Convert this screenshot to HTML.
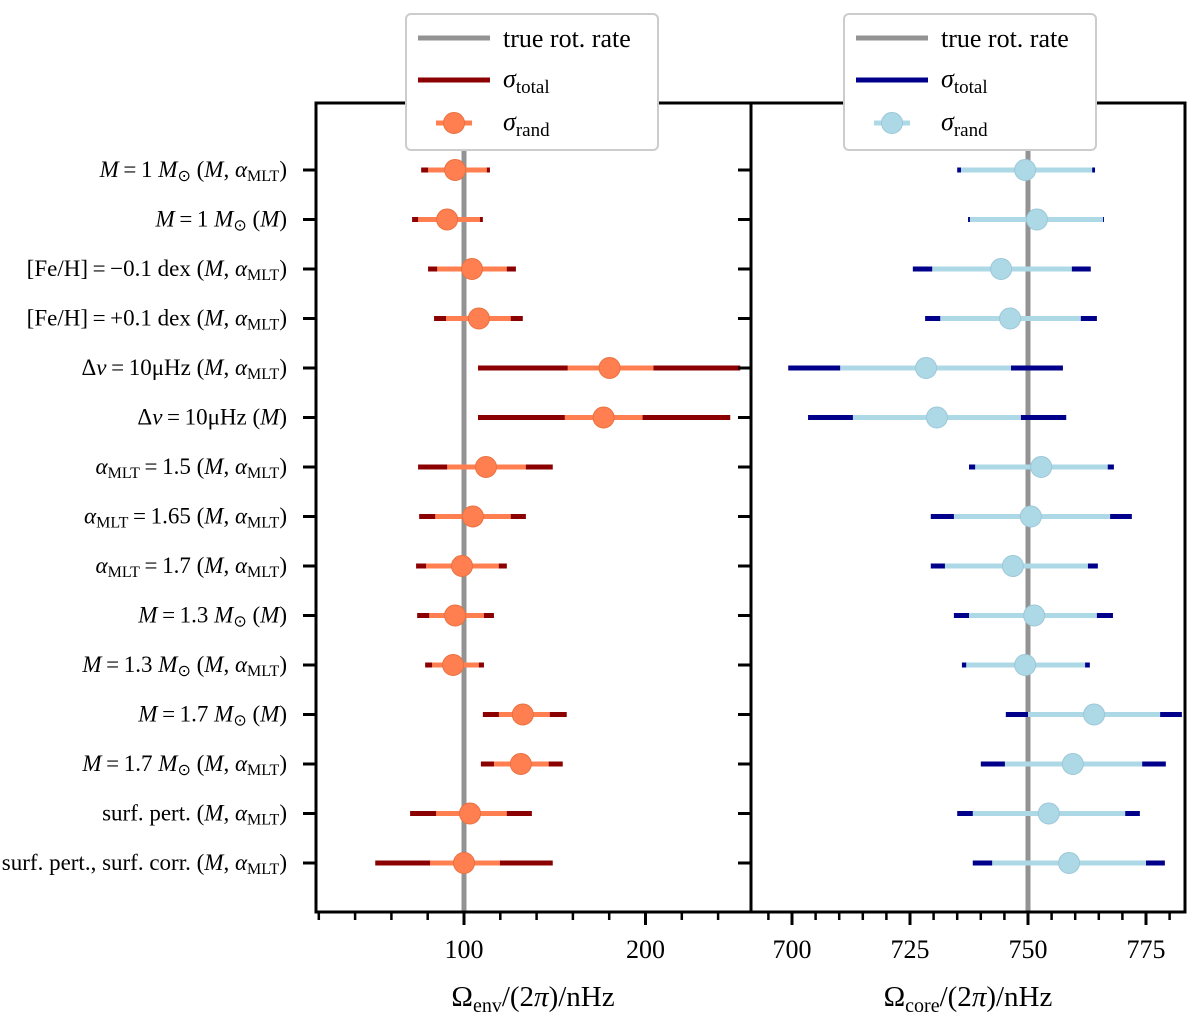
<!DOCTYPE html>
<html><head><meta charset="utf-8"><style>
body{margin:0;background:#fff}
text{font-family:"Liberation Serif",serif;fill:#000}
</style></head><body>
<svg width="1200" height="1024" viewBox="0 0 1200 1024" xmlns="http://www.w3.org/2000/svg">
<g id="plot"></g>
</svg>
<script>
const labels=[
 '*M*\u2009=\u20091 *M*_⊙_ (*M*, *α*_MLT_)',
 '*M*\u2009=\u20091 *M*_⊙_ (*M*)',
 '[Fe/H]\u2009=\u2009−0.1 dex (*M*, *α*_MLT_)',
 '[Fe/H]\u2009=\u2009+0.1 dex (*M*, *α*_MLT_)',
 'Δ*ν*\u2009=\u200910μHz (*M*, *α*_MLT_)',
 'Δ*ν*\u2009=\u200910μHz (*M*)',
 '*α*_MLT_\u2009=\u20091.5 (*M*, *α*_MLT_)',
 '*α*_MLT_\u2009=\u20091.65 (*M*, *α*_MLT_)',
 '*α*_MLT_\u2009=\u20091.7 (*M*, *α*_MLT_)',
 '*M*\u2009=\u20091.3 *M*_⊙_ (*M*)',
 '*M*\u2009=\u20091.3 *M*_⊙_ (*M*, *α*_MLT_)',
 '*M*\u2009=\u20091.7 *M*_⊙_ (*M*)',
 '*M*\u2009=\u20091.7 *M*_⊙_ (*M*, *α*_MLT_)',
 'surf. pert. (*M*, *α*_MLT_)',
 'surf. pert., surf. corr. (*M*, *α*_MLT_)'];
const envCenter=[95.1,90.7,104.4,108.2,180.2,176.9,112.1,104.9,98.9,95.1,94,132.4,131.3,103.3,100];
const envRandLo=[80.2,74.7,85.2,90.1,157.1,155.5,90.7,84.1,79.1,80.8,82.4,119.2,116.5,84.6,81.3];
const envRandHi=[112.6,108.8,123.6,125.8,204.4,198.4,134.1,125.8,119.2,111,108.2,147.3,146.7,123.6,119.8];
const envTotLo=[76.4,71.4,80.2,83.5,107.7,107.7,74.7,75.3,73.6,74.2,78.6,110.4,109.3,70.3,51.1];
const envTotHi=[114.3,110.4,128.6,132.4,252.2,246.7,148.9,134.1,123.6,116.5,111,156.6,154.4,137.4,148.9];
const coreCenter=[749.4,751.9,744.3,746.2,728.4,730.7,752.8,750.6,746.8,751.3,749.4,764,759.5,754.4,758.7];
const coreRandLo=[735.8,737.7,729.7,731.4,710.2,712.9,738.8,734.3,732.4,737.5,736.9,750,745.1,738.3,742.4];
const coreRandHi=[763.6,765.9,759.3,761.2,746.4,748.5,766.9,767.4,762.7,764.6,762.1,778,774.2,770.6,775];
const coreTotLo=[735,737.3,725.6,728.2,699.2,703.4,737.5,729.4,729.4,734.3,736,745.3,740,735,738.3];
const coreTotHi=[764.2,766.1,763.3,764.6,757.4,758.1,768.2,772,764.8,768,763.1,782.6,779.2,773.7,779];
const envMajor=[100,200], coreMajor=[700,725,750,775];

const NS='http://www.w3.org/2000/svg', g=document.getElementById('plot');
function el(t,a,p){const e=document.createElementNS(NS,t);for(const k in a)e.setAttribute(k,a[k]);(p||g).appendChild(e);return e;}
const xE=v=>464+(v-100)*1.815, xC=v=>792+(v-700)*4.72;
const yR=i=>170+i*49.5;
const TOP=103,BOT=912;

function panel(name,x0,x1,xf,center,rlo,rhi,tlo,thi,truth,cTot,cRand,cEdge,majors,minStep,minFrom,minTo){
 const pg=el('g',{});
 
 
 const cp=el('clipPath',{id:'c'+name},pg);
 el('rect',{x:x0,y:TOP,width:x1-x0,height:BOT-TOP},cp);
 const tl=el('line',{x1:xf(truth),x2:xf(truth),y1:TOP,y2:BOT,stroke:'#939393','stroke-width':5},pg);
 
 
 const dg=el('g',{'clip-path':'url(#c'+name+')'},pg);
 for(let i=0;i<center.length;i++){
  const y=yR(i);
  const a=el('line',{x1:xf(tlo[i]),x2:xf(thi[i]),y1:y,y2:y,stroke:cTot,'stroke-width':5},dg);
  
  
  const b=el('line',{x1:xf(rlo[i]),x2:xf(rhi[i]),y1:y,y2:y,stroke:cRand,'stroke-width':5},dg);
  
  
  const c=el('circle',{cx:xf(center[i]),cy:y,r:10.5,fill:cRand,stroke:cEdge,'stroke-width':1},dg);
  
  
 }
 el('rect',{x:x0,y:TOP,width:x1-x0,height:BOT-TOP,fill:'none',stroke:'#000','stroke-width':3},pg);
 for(let i=0;i<center.length;i++){el('line',{x1:x0-13,x2:x0,y1:yR(i),y2:yR(i),stroke:'#000','stroke-width':3},pg);}
 for(let v=minFrom;v<=minTo;v+=minStep){const x=xf(v);if(x<x0||x>x1)continue;const maj=majors.includes(v);
  el('line',{x1:x,x2:x,y1:BOT,y2:BOT+(maj?13:8),stroke:'#000','stroke-width':maj?3:2.5},pg);}
 majors.forEach(v=>{const t=el('text',{x:xf(v),y:958,'text-anchor':'middle','font-size':26},pg);t.textContent=v;
  
  });
}
panel('env',316,751,xE,envCenter,envRandLo,envRandHi,envTotLo,envTotHi,100,'#8b0000','#ff7f50','#e8703f',envMajor,20,20,240);
panel('core',751,1185,xC,coreCenter,coreRandLo,coreRandHi,coreTotLo,coreTotHi,750,'#00008b','#add8e6','#9cc7d8',coreMajor,5,690,785);

labels.forEach((s,i)=>{
 const t=el('text',{x:287,y:yR(i)+7,'text-anchor':'end','font-size':23});
 
 
 s.split(/(\*[^*]+\*|_[^_]+_)/).forEach(part=>{
  if(!part)return;
  const ts=document.createElementNS(NS,'tspan');
  if(part[0]==='_'){ts.textContent=part.slice(1,-1);ts.setAttribute('font-size','16');ts.setAttribute('baseline-shift','-4');}
  else if(part[0]==='*'){ts.textContent=part.slice(1,-1);ts.setAttribute('font-style','italic');}
  else ts.textContent=part;
  t.appendChild(ts);
 });
});

function xtitle(x,sub,name){
 const t=el('text',{x:x,y:1006,'text-anchor':'middle','font-size':29});
 
 
 t.innerHTML='Ω<tspan font-size="20" dy="6">'+sub+'</tspan><tspan dy="-6">/(2</tspan><tspan font-style="italic">π</tspan>)/nHz';
}
xtitle(533,'env','env-x-axis-title');xtitle(968,'core','core-x-axis-title');

function legend(x,cTot,cRand,cEdge,name){
 const lg=el('g',{});
 
 
 el('rect',{x:x,y:14,width:252,height:136,rx:5,fill:'#fff',stroke:'#ccc','stroke-width':2},lg);
 el('line',{x1:x+12,x2:x+84,y1:38,y2:38,stroke:'#939393','stroke-width':5},lg);
 el('line',{x1:x+12,x2:x+84,y1:80,y2:80,stroke:cTot,'stroke-width':5},lg);
 el('line',{x1:x+30,x2:x+66,y1:123,y2:123,stroke:cRand,'stroke-width':5},lg);
 el('circle',{cx:x+48,cy:123,r:10.5,fill:cRand,stroke:cEdge},lg);
 const t1=el('text',{x:x+97,y:47,'font-size':26},lg);t1.textContent='true rot. rate';
 const t2=el('text',{x:x+97,y:87,'font-size':26},lg);t2.innerHTML='<tspan font-style="italic">σ</tspan><tspan font-size="19" dy="6">total</tspan>';
 const t3=el('text',{x:x+97,y:130,'font-size':26},lg);t3.innerHTML='<tspan font-style="italic">σ</tspan><tspan font-size="19" dy="6">rand</tspan>';
}
legend(406,'#8b0000','#ff7f50','#e8703f','env-legend');
legend(844,'#00008b','#add8e6','#9cc7d8','core-legend');
</script>
</body></html>
